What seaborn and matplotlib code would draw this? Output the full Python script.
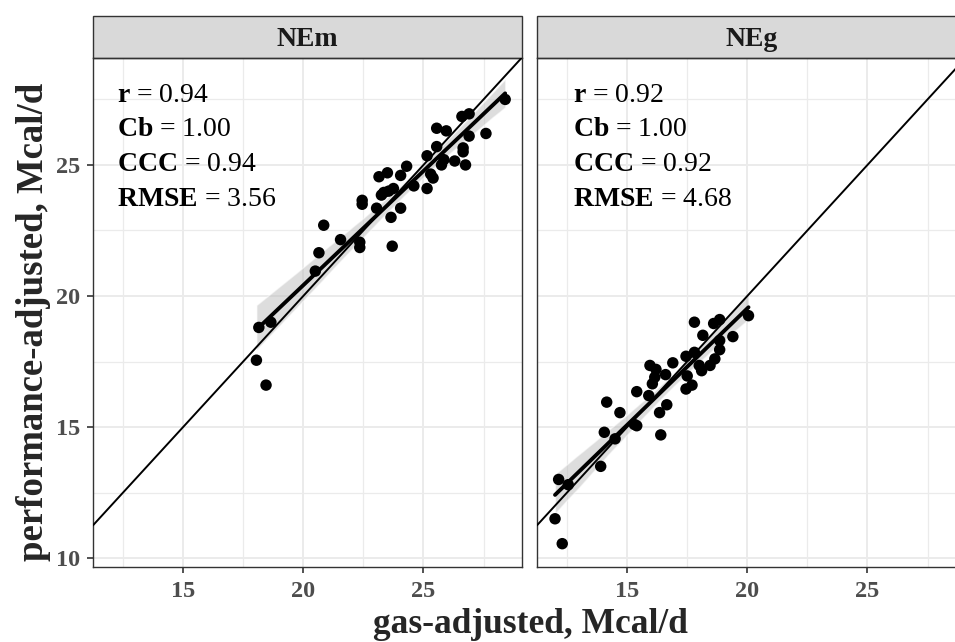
import numpy as np
import pandas as pd
import seaborn as sns
import matplotlib.pyplot as plt
from matplotlib.patches import Rectangle
from matplotlib.ticker import MultipleLocator

# NEm panel: gas-adjusted (x) vs performance-adjusted (y), Mcal/d
nem_gas = [28.4, 26.6, 26.9, 25.55, 25.95, 27.6, 26.9, 26.65, 26.65, 26.75,
           26.3, 25.85, 25.75, 25.55, 25.15, 25.3, 25.4, 25.15, 24.3, 24.05,
           23.5, 23.15, 24.6, 23.75, 23.55, 23.35, 23.25, 22.45, 22.45, 23.05,
           24.05, 23.65, 20.85, 21.55, 22.35, 22.35, 23.7, 20.65, 20.5, 18.15,
           18.65, 18.05, 18.45]
nem_perf = [27.5, 26.85, 26.95, 26.4, 26.3, 26.2, 26.1, 25.65, 25.5, 25.0,
            25.15, 25.2, 25.0, 25.7, 25.35, 24.65, 24.5, 24.1, 24.95, 24.6,
            24.7, 24.55, 24.2, 24.1, 24.0, 23.95, 23.85, 23.65, 23.5, 23.35,
            23.35, 23.0, 22.7, 22.15, 22.05, 21.85, 21.9, 21.65, 20.95, 18.8,
            19.0, 17.55, 16.6]

# NEg panel
neg_gas = [20.05, 17.8, 18.6, 18.85, 19.4, 18.15, 18.85, 18.85, 18.65, 18.45,
           18.1, 18.0, 17.8, 17.45, 16.9, 17.5, 17.7, 17.45, 15.95, 16.2,
           16.6, 16.15, 16.05, 15.4, 15.9, 16.65, 16.35, 14.7, 14.15, 15.3,
           15.4, 14.05, 14.5, 16.4, 13.9, 12.15, 12.55, 12.0, 12.3]
neg_perf = [19.25, 19.0, 18.95, 19.1, 18.45, 18.5, 18.3, 17.95, 17.6, 17.35,
            17.15, 17.35, 17.85, 17.7, 17.45, 16.95, 16.6, 16.45, 17.35, 17.2,
            17.0, 16.9, 16.65, 16.35, 16.2, 15.85, 15.55, 15.55, 15.95, 15.1,
            15.05, 14.8, 14.55, 14.7, 13.5, 13.0, 12.8, 11.5, 10.55]

panels = ["NEm", "NEg"]
stat_names = ["r", "Cb", "CCC", "RMSE"]
stat_values = {
    "NEm": ["0.94", "1.00", "0.94", "3.56"],
    "NEg": ["0.92", "1.00", "0.92", "4.68"],
}

df = pd.concat([
    pd.DataFrame({"panel": "NEm", "gas": nem_gas, "perf": nem_perf}),
    pd.DataFrame({"panel": "NEg", "gas": neg_gas, "perf": neg_perf}),
])

sns.set_theme(style="white")
plt.rcParams["font.family"] = ["Liberation Serif", "DejaVu Serif"]
plt.rcParams["mathtext.fontset"] = "custom"
plt.rcParams["mathtext.rm"] = "Liberation Serif"
plt.rcParams["mathtext.bf"] = "Liberation Serif:bold"

fig = plt.figure(figsize=(9.55, 6.42), dpi=100)
W, H = 955, 642
panel_w, panel_h = 429, 509
lefts = [93, 537]
axes = [fig.add_axes([l / W, (H - 567) / H, panel_w / W, panel_h / H]) for l in lefts]

text_x = {"NEm": 0.056, "NEg": 0.084}

for name, ax in zip(panels, axes):
    d = df[df["panel"] == name]
    ax.set_axisbelow(True)
    ax.xaxis.set_major_locator(MultipleLocator(5))
    ax.yaxis.set_major_locator(MultipleLocator(5))
    ax.xaxis.set_minor_locator(MultipleLocator(2.5))
    ax.yaxis.set_minor_locator(MultipleLocator(2.5))
    ax.grid(which="major", color="#EBEBEB", lw=1.4)
    ax.grid(which="minor", color="#EBEBEB", lw=0.9)

    sns.scatterplot(data=d, x="gas", y="perf", ax=ax, color="black",
                    s=68, edgecolor="none", zorder=3)
    sns.regplot(data=d, x="gas", y="perf", ax=ax, scatter=False, ci=95,
                seed=1, color="black",
                line_kws={"lw": 2.8, "color": "black", "zorder": 4})
    for coll in ax.collections[1:]:
        coll.set_facecolor("#BDBDBD")
        coll.set_alpha(0.5)
    ax.axline((10, 10), slope=1, color="black", lw=1.4, zorder=5)

    ax.set_xlim(11.25, 29.1)
    ax.set_ylim(9.66, 29.08)
    ax.set_xlabel("")
    ax.set_ylabel("")
    for sp in ax.spines.values():
        sp.set_visible(True)
        sp.set_color("#333333")
        sp.set_linewidth(1.0)
    ax.tick_params(which="major", direction="out", length=4, width=1.2,
                   color="#333333", labelsize=17.5, labelcolor="#4D4D4D",
                   bottom=True, left=True)
    ax.tick_params(axis="x", pad=6)
    ax.tick_params(axis="y", pad=5)
    ax.tick_params(which="minor", length=0)
    for lab in ax.get_xticklabels() + ax.get_yticklabels():
        lab.set_fontweight("bold")

    # facet strip
    strip_h = 42 / panel_h
    ax.add_patch(Rectangle((0, 1), 1, strip_h, transform=ax.transAxes,
                           facecolor="#D9D9D9", edgecolor="#333333", lw=1.0,
                           clip_on=False))
    ax.text(0.5, 1 + strip_h / 2, name, transform=ax.transAxes, ha="center",
            va="center_baseline", fontsize=20, fontweight="bold", color="#1A1A1A")

    # agreement statistics
    for i, (lab, val) in enumerate(zip(stat_names, stat_values[name])):
        ax.text(text_x[name], (567 - 102) / panel_h - i * 34.5 / panel_h,
                r"$\mathbf{" + lab + "}$ = " + val, transform=ax.transAxes,
                ha="left", va="baseline", fontsize=20, color="black")

axes[1].tick_params(left=False, labelleft=False)

fig.text(530 / W, 1 - 633 / H, "gas-adjusted, Mcal/d", ha="center",
         va="baseline", fontsize=25.5, fontweight="bold")
fig.text(34 / W, 1 - 322 / H, "performance-adjusted, Mcal/d", ha="center",
         va="center", rotation=90, fontsize=26.5, fontweight="bold")

fig.savefig("out.png", dpi=100)
